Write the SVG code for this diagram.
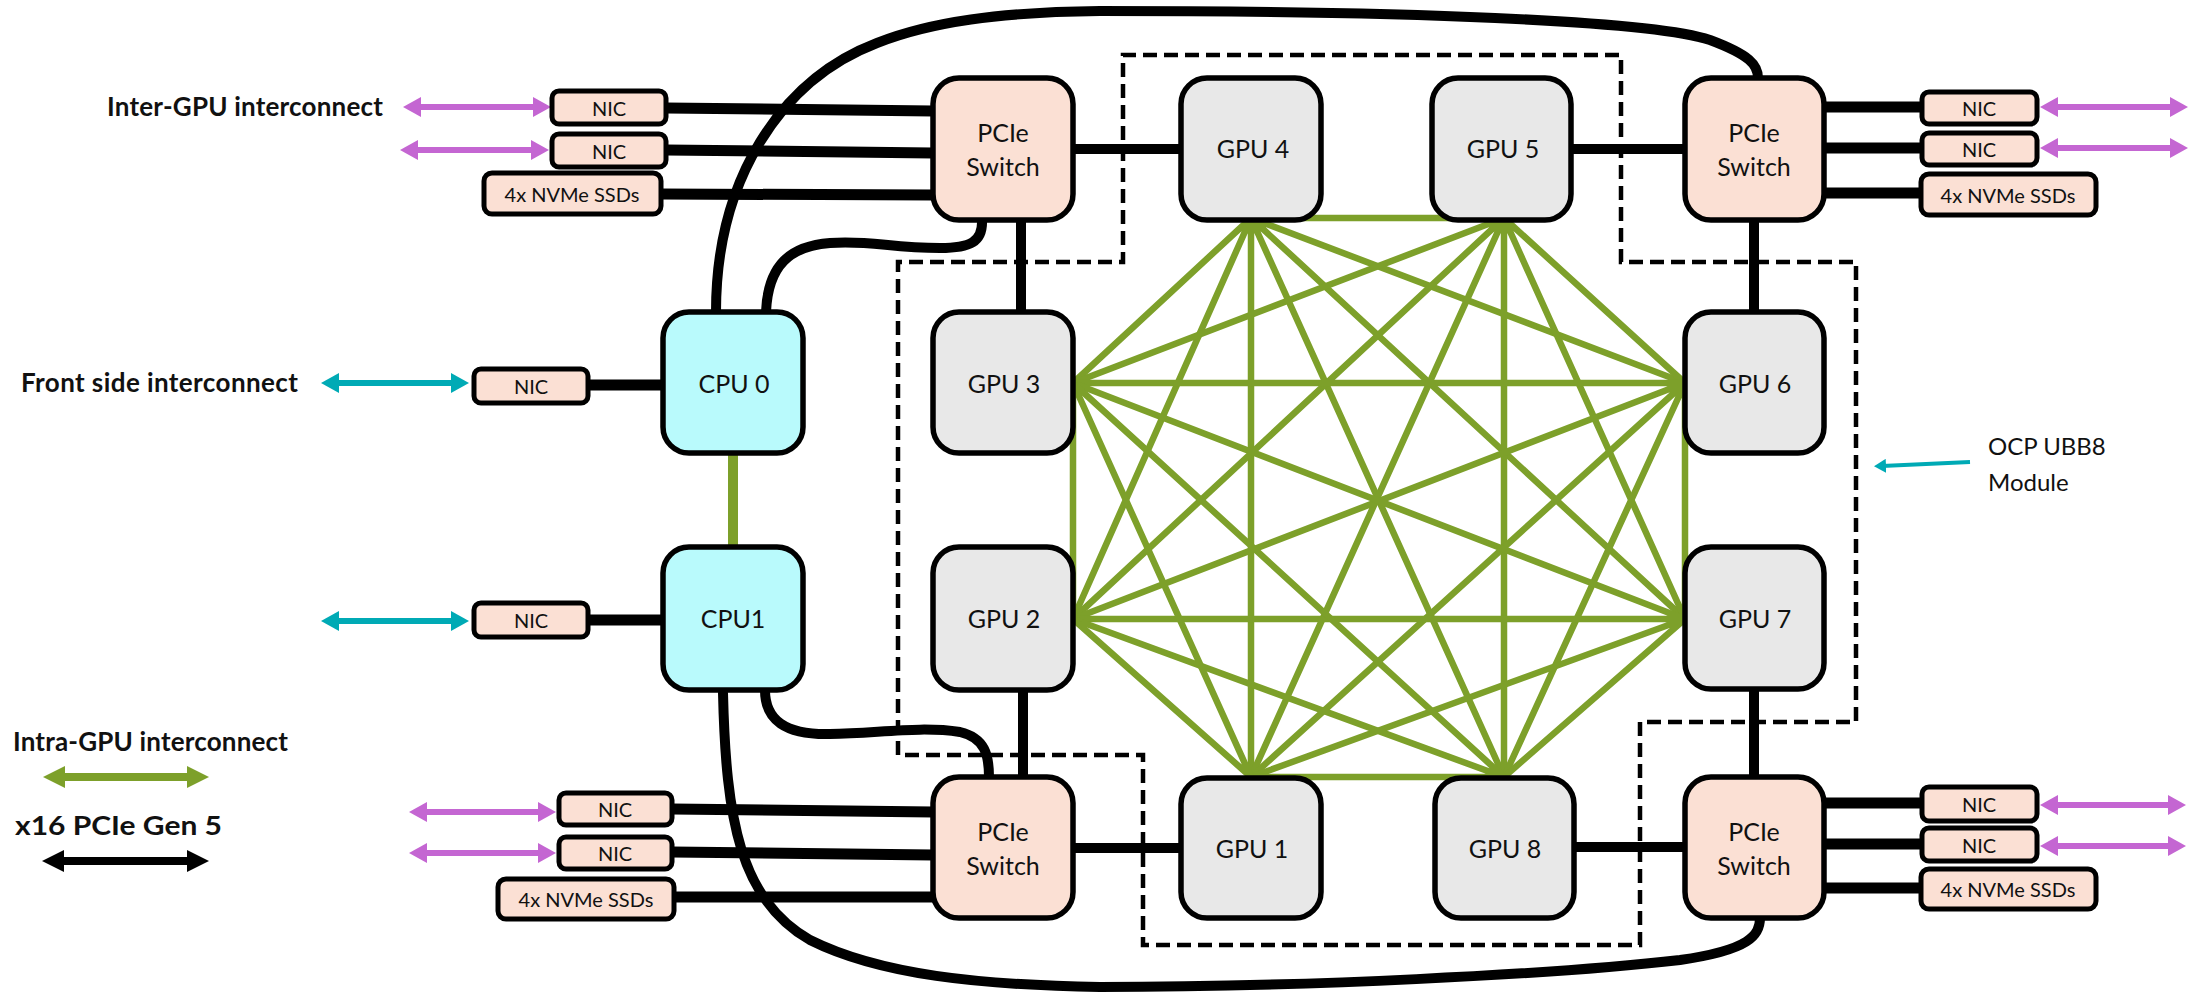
<svg xmlns="http://www.w3.org/2000/svg" width="2208" height="993" viewBox="0 0 2208 993">
  <style>
    text { font-family: Lato, "Liberation Sans", sans-serif; fill: #111; }
    .node { stroke: #000; stroke-width: 5.5; }
    .sw { fill: #fbe0d4; }
    .gpu { fill: #e8e8e8; }
    .cpu { fill: #b9fafc; }
    .small { fill: #fbe0d4; stroke: #000; stroke-width: 5; }
    .lbl { font-size: 25px; text-anchor: middle; dominant-baseline: central; }
    .sl { font-size: 20px; text-anchor: middle; dominant-baseline: central; }
    .bold { font-size: 26px; font-weight: 700; }
    .pcie { stroke: #000; fill: none; stroke-width: 10; }
    .nicl { stroke: #000; fill: none; stroke-width: 11; }
    .curve { stroke: #000; fill: none; stroke-width: 10; stroke-linecap: round; }
    .nv { stroke: #7da02a; stroke-width: 6.5; fill: none; stroke-linecap: round; }
    .pink { stroke: #c466d2; stroke-width: 6; marker-start: url(#hp); marker-end: url(#hp); }
    .teal { stroke: #00aab5; stroke-width: 6; marker-start: url(#ht); marker-end: url(#ht); }
    .dash { fill: none; stroke: #000; stroke-width: 4.5; stroke-dasharray: 14 7; }
  </style>
  <defs>
    <marker id="hp" markerUnits="userSpaceOnUse" viewBox="0 0 18 20" markerWidth="18" markerHeight="20" refX="8" refY="10" orient="auto-start-reverse">
      <path d="M0,0 L18,10 L0,20 Z" fill="#c466d2"/>
    </marker>
    <marker id="ht" markerUnits="userSpaceOnUse" viewBox="0 0 18 20" markerWidth="18" markerHeight="20" refX="8" refY="10" orient="auto-start-reverse">
      <path d="M0,0 L18,10 L0,20 Z" fill="#00aab5"/>
    </marker>
    <marker id="hg" markerUnits="userSpaceOnUse" viewBox="0 0 22 22" markerWidth="22" markerHeight="22" refX="10" refY="11" orient="auto-start-reverse">
      <path d="M0,0 L22,11 L0,22 Z" fill="#7da02a"/>
    </marker>
    <marker id="hk" markerUnits="userSpaceOnUse" viewBox="0 0 22 22" markerWidth="22" markerHeight="22" refX="10" refY="11" orient="auto-start-reverse">
      <path d="M0,0 L22,11 L0,22 Z" fill="#000"/>
    </marker>
    <marker id="hs" markerUnits="userSpaceOnUse" viewBox="0 0 12 14" markerWidth="12" markerHeight="14" refX="4" refY="7" orient="auto">
      <path d="M0,0 L12,7 L0,14 Z" fill="#00aab5"/>
    </marker>
  </defs>

  <!-- module boundary -->
  <path id="ubb8-outline" class="dash" d="M898,755 L898,262 L1123,262 L1123,55 L1621,55 L1621,262 L1856,262 L1856,722 L1640,722 L1640,945 L1143,945 L1143,755 Z"/>

  <g id="connectors">
    <!-- all-to-all GPU fabric -->
    <g id="gpu-mesh" class="nv">
      <path d="M1251,218 L1504,218 M1251,218 L1685,383 M1251,218 L1685,619 M1251,218 L1504,777 M1251,218 L1251,777 M1251,218 L1073,619 M1251,218 L1073,383"/>
      <path d="M1504,218 L1685,383 M1504,218 L1685,619 M1504,218 L1504,777 M1504,218 L1251,777 M1504,218 L1073,619 M1504,218 L1073,383"/>
      <path d="M1685,383 L1685,619 M1685,383 L1504,777 M1685,383 L1251,777 M1685,383 L1073,619 M1685,383 L1073,383"/>
      <path d="M1685,619 L1504,777 M1685,619 L1251,777 M1685,619 L1073,619 M1685,619 L1073,383"/>
      <path d="M1504,777 L1251,777 M1504,777 L1073,619 M1504,777 L1073,383"/>
      <path d="M1251,777 L1073,619 M1251,777 L1073,383"/>
      <path d="M1073,619 L1073,383"/>
    </g>
    <line x1="733" y1="453" x2="733" y2="547" stroke="#7da02a" stroke-width="10"/>

    <!-- switch to GPU links -->
    <path class="pcie" d="M1072,149 H1181 M1571,149 H1685 M1021,220 V312 M1754,220 V312 M1023,690 V777 M1754,689 V777 M1073,848 H1181 M1574,847 H1685"/>

    <!-- switch to NIC / SSD links -->
    <path class="nicl" d="M666,108 L933,111 M666,150 L933,153 M661,194 L933,195"/>
    <path class="nicl" d="M1823,107 H1922 M1823,148 H1922 M1823,193 H1921"/>
    <path class="nicl" d="M672,809 L933,812 M672,852 L933,855 M674,897 L933,897"/>
    <path class="nicl" d="M1823,803 H1922 M1823,844 H1922 M1823,888 H1921"/>
    <path class="nicl" stroke-width="13" d="M588,385 H663 M588,620 H663"/>

    <!-- CPU to switch links -->
    <path class="curve" d="M716,312 C716,180 780,80 877,43 C930,22 1000,12 1100,11 C1400,11 1650,20 1710,40 C1750,55 1758,65 1758,78"/>
    <path class="curve" d="M982,220 C983,242 970,248 940,248 C890,248 870,240 830,243 C790,246 768,265 766,312"/>
    <path class="curve" d="M765,690 C765,720 785,735 830,734 C880,733 920,726 960,732 C985,738 989,755 989,777"/>
    <path class="curve" d="M723,693 C726,820 740,900 810,940 C880,975 980,985 1100,987 C1300,987 1550,975 1680,960 C1750,950 1760,935 1760,918"/>

    <!-- external interconnect arrows -->
    <line class="pink" x1="413" y1="107" x2="541" y2="107"/>
    <line class="pink" x1="410" y1="150" x2="539" y2="150"/>
    <line class="pink" x1="2050" y1="107" x2="2178" y2="107"/>
    <line class="pink" x1="2050" y1="148" x2="2178" y2="148"/>
    <line class="pink" x1="419" y1="812" x2="546" y2="812"/>
    <line class="pink" x1="419" y1="853" x2="546" y2="853"/>
    <line class="pink" x1="2050" y1="805" x2="2176" y2="805"/>
    <line class="pink" x1="2050" y1="846" x2="2176" y2="846"/>
    <line class="teal" x1="331" y1="383" x2="459" y2="383"/>
    <line class="teal" x1="331" y1="621" x2="459" y2="621"/>
    <line x1="1970" y1="462" x2="1882" y2="466" stroke="#00aab5" stroke-width="4" marker-end="url(#hs)"/>
  </g>

  <!-- PCIe switches -->
  <g id="switch-tl"><rect class="node sw" x="933" y="78" width="140" height="142" rx="26"/><text class="lbl" x="1003" y="132">PCIe</text><text class="lbl" x="1003" y="166">Switch</text></g>
  <g id="switch-tr"><rect class="node sw" x="1685" y="78" width="139" height="142" rx="26"/><text class="lbl" x="1754" y="132">PCIe</text><text class="lbl" x="1754" y="166">Switch</text></g>
  <g id="switch-bl"><rect class="node sw" x="933" y="777" width="140" height="141" rx="26"/><text class="lbl" x="1003" y="831">PCIe</text><text class="lbl" x="1003" y="865">Switch</text></g>
  <g id="switch-br"><rect class="node sw" x="1685" y="777" width="139" height="141" rx="26"/><text class="lbl" x="1754" y="831">PCIe</text><text class="lbl" x="1754" y="865">Switch</text></g>

  <!-- GPUs -->
  <g id="gpu4"><rect class="node gpu" x="1181" y="78" width="140" height="142" rx="26"/><text class="lbl" x="1253" y="148">GPU 4</text></g>
  <g id="gpu5"><rect class="node gpu" x="1432" y="78" width="139" height="142" rx="26"/><text class="lbl" x="1503" y="148">GPU 5</text></g>
  <g id="gpu3"><rect class="node gpu" x="933" y="312" width="140" height="141" rx="26"/><text class="lbl" x="1004" y="383">GPU 3</text></g>
  <g id="gpu6"><rect class="node gpu" x="1685" y="312" width="139" height="141" rx="26"/><text class="lbl" x="1755" y="383">GPU 6</text></g>
  <g id="gpu2"><rect class="node gpu" x="933" y="547" width="140" height="143" rx="26"/><text class="lbl" x="1004" y="618">GPU 2</text></g>
  <g id="gpu7"><rect class="node gpu" x="1685" y="547" width="139" height="142" rx="26"/><text class="lbl" x="1755" y="618">GPU 7</text></g>
  <g id="gpu1"><rect class="node gpu" x="1181" y="778" width="140" height="140" rx="26"/><text class="lbl" x="1252" y="848">GPU 1</text></g>
  <g id="gpu8"><rect class="node gpu" x="1435" y="778" width="139" height="140" rx="26"/><text class="lbl" x="1505" y="848">GPU 8</text></g>

  <!-- CPUs -->
  <g id="cpu0"><rect class="node cpu" x="663" y="312" width="140" height="141" rx="26"/><text class="lbl" x="734" y="383">CPU 0</text></g>
  <g id="cpu1"><rect class="node cpu" x="663" y="547" width="140" height="143" rx="26"/><text class="lbl" x="733" y="618">CPU1</text></g>

  <!-- NICs and storage -->
  <g id="nic-tl-1"><rect class="small" x="552" y="91" width="114" height="33" rx="7"/><text class="sl" x="609" y="108">NIC</text></g>
  <g id="nic-tl-2"><rect class="small" x="552" y="134" width="114" height="33" rx="7"/><text class="sl" x="609" y="151">NIC</text></g>
  <g id="ssd-tl"><rect class="small" x="484" y="173" width="177" height="41" rx="8"/><text class="sl" x="572" y="194">4x NVMe SSDs</text></g>
  <g id="nic-tr-1"><rect class="small" x="1922" y="92" width="115" height="32" rx="7"/><text class="sl" x="1979" y="108">NIC</text></g>
  <g id="nic-tr-2"><rect class="small" x="1922" y="133" width="115" height="32" rx="7"/><text class="sl" x="1979" y="149">NIC</text></g>
  <g id="ssd-tr"><rect class="small" x="1921" y="174" width="175" height="41" rx="8"/><text class="sl" x="2008" y="195">4x NVMe SSDs</text></g>
  <g id="nic-bl-1"><rect class="small" x="559" y="793" width="113" height="32" rx="7"/><text class="sl" x="615" y="809">NIC</text></g>
  <g id="nic-bl-2"><rect class="small" x="559" y="837" width="113" height="32" rx="7"/><text class="sl" x="615" y="853">NIC</text></g>
  <g id="ssd-bl"><rect class="small" x="498" y="879" width="176" height="40" rx="8"/><text class="sl" x="586" y="899">4x NVMe SSDs</text></g>
  <g id="nic-br-1"><rect class="small" x="1922" y="787" width="115" height="34" rx="7"/><text class="sl" x="1979" y="804">NIC</text></g>
  <g id="nic-br-2"><rect class="small" x="1922" y="828" width="115" height="33" rx="7"/><text class="sl" x="1979" y="845">NIC</text></g>
  <g id="ssd-br"><rect class="small" x="1921" y="869" width="175" height="40" rx="8"/><text class="sl" x="2008" y="889">4x NVMe SSDs</text></g>
  <g id="nic-cpu0"><rect class="small" x="474" y="369" width="114" height="34" rx="7"/><text class="sl" x="531" y="386">NIC</text></g>
  <g id="nic-cpu1"><rect class="small" x="474" y="603" width="114" height="34" rx="7"/><text class="sl" x="531" y="620">NIC</text></g>

  <!-- labels and legend -->
  <text class="bold" x="107" y="116" textLength="276" lengthAdjust="spacing">Inter-GPU interconnect</text>
  <text class="bold" x="21" y="392" textLength="277" lengthAdjust="spacing">Front side interconnect</text>
  <text x="1988" y="455" font-size="24">OCP UBB8</text>
  <text x="1988" y="491" font-size="24">Module</text>
  <text class="bold" x="13" y="751" textLength="275" lengthAdjust="spacing">Intra-GPU interconnect</text>
  <line x1="55" y1="777" x2="197" y2="777" stroke="#7da02a" stroke-width="8" marker-start="url(#hg)" marker-end="url(#hg)"/>
  <text class="bold" x="15" y="835" font-size="28" textLength="207" lengthAdjust="spacingAndGlyphs">x16 PCIe Gen 5</text>
  <line x1="54" y1="861" x2="197" y2="861" stroke="#000" stroke-width="8" marker-start="url(#hk)" marker-end="url(#hk)"/>
</svg>
